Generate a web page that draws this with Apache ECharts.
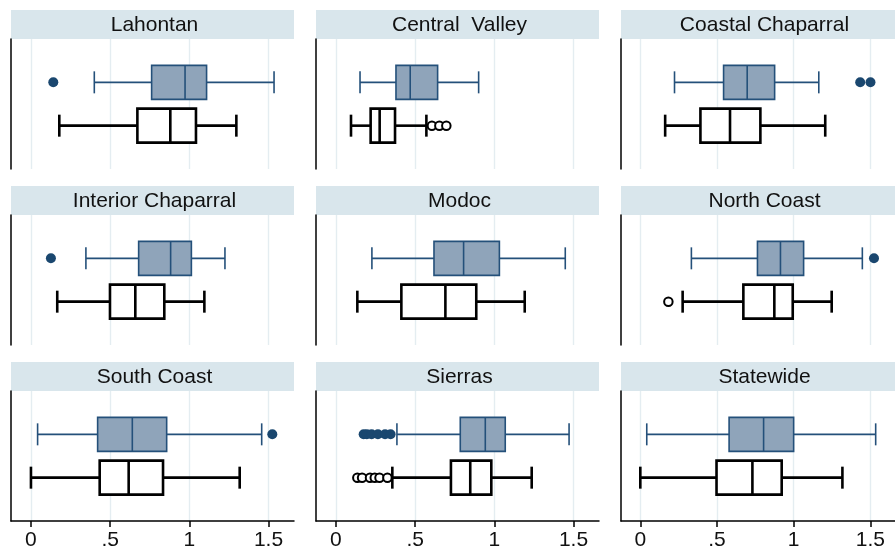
<!DOCTYPE html>
<html>
<head>
<meta charset="utf-8">
<script src="https://cdn.jsdelivr.net/npm/echarts@6/dist/echarts.min.js"></script>
<style>html,body{margin:0;padding:0;background:#fff;}#c{width:895px;height:552px;}</style>
</head>
<body>
<div id="c"></div>
<script>
// ---- data ----
const regions = ['Lahontan', 'Central  Valley', 'Coastal Chaparral', 'Interior Chaparral', 'Modoc', 'North Coast', 'South Coast', 'Sierras', 'Statewide'];
// [lower whisker, Q1, median, Q3, upper whisker]
const blueBoxes = [
  [0.400, 0.762, 0.973, 1.109, 1.535],
  [0.152, 0.379, 0.469, 0.642, 0.901],
  [0.223, 0.543, 0.697, 0.876, 1.164],
  [0.347, 0.680, 0.882, 1.013, 1.225],
  [0.227, 0.619, 0.806, 1.032, 1.448],
  [0.333, 0.764, 0.914, 1.065, 1.448],
  [0.042, 0.421, 0.640, 0.857, 1.457],
  [0.385, 0.785, 0.943, 1.069, 1.472],
  [0.042, 0.579, 0.804, 1.000, 1.535]
];
const blackBoxes = [
  [0.179, 0.672, 0.880, 1.042, 1.297],
  [0.095, 0.219, 0.276, 0.373, 0.571],
  [0.162, 0.392, 0.585, 0.783, 1.206],
  [0.166, 0.499, 0.659, 0.842, 1.095],
  [0.135, 0.413, 0.691, 0.886, 1.192],
  [0.276, 0.672, 0.874, 0.994, 1.248],
  [0.000, 0.434, 0.617, 0.834, 1.318],
  [0.356, 0.726, 0.848, 0.981, 1.236],
  [0.000, 0.497, 0.731, 0.922, 1.318]
];
const blueOutliers = [
  [0.141], [], [1.434, 1.501], [0.126], [], [1.524], [1.524],
  [0.175, 0.195, 0.225, 0.265, 0.310, 0.345], []
];
const blackOutliers = [
  [], [0.606, 0.653, 0.697], [], [], [], [0.183], [],
  [0.135, 0.165, 0.215, 0.245, 0.275, 0.325], []
];
const tickValues = [0, 0.5, 1, 1.5];
const tickLabels = ['0', '.5', '1', '1.5'];
const xRange = [-0.126, 1.661];
const yCats = ['lo', 'black', 'blue', 'hi'];

// ---- styles / layout ----
const BLUE_LINE = '#24507a', BLUE_FILL = '#8fa4ba', BLUE_DOT = '#1a476f';
const FONT = '"Liberation Sans", Arial, Helvetica, sans-serif';
const PW = 283, HEAD_H = 29, PLOT_H = 130, COL_STEP = 305, ROW_STEP = 176, X0 = 11, Y0 = 10;

function boxRenderer(st) {
  return function (params, api) {
    const y = api.value(0);
    const xs = [1, 2, 3, 4, 5].map(k => api.coord([api.value(k), y])[0]);
    const cy = api.coord([xRange[0], y])[1];
    const bh = 34, ch = 22;
    const ls = { stroke: st.stroke, lineWidth: st.width, fill: null };
    return {
      type: 'group',
      children: [
        { type: 'line', shape: { x1: xs[0], y1: cy, x2: xs[1], y2: cy }, style: ls },
        { type: 'line', shape: { x1: xs[3], y1: cy, x2: xs[4], y2: cy }, style: ls },
        { type: 'line', shape: { x1: xs[0], y1: cy - ch / 2, x2: xs[0], y2: cy + ch / 2 }, style: ls },
        { type: 'line', shape: { x1: xs[4], y1: cy - ch / 2, x2: xs[4], y2: cy + ch / 2 }, style: ls },
        { type: 'rect', shape: { x: xs[1], y: cy - bh / 2, width: xs[3] - xs[1], height: bh },
          style: { fill: st.fill, stroke: st.stroke, lineWidth: st.width } },
        { type: 'line', shape: { x1: xs[2], y1: cy - bh / 2, x2: xs[2], y2: cy + bh / 2 }, style: ls }
      ]
    };
  };
}

const grids = [], xAxes = [], yAxes = [], series = [], graphics = [];
regions.forEach((name, i) => {
  const r = Math.floor(i / 3), c = i % 3;
  const left = X0 + c * COL_STEP, top = Y0 + r * ROW_STEP;
  const bottomRow = r === 2;
  graphics.push({ type: 'rect', shape: { x: left, y: top, width: PW, height: HEAD_H }, style: { fill: '#d9e6ec' }, silent: true });
  graphics.push({ type: 'text', x: left + PW / 2 + 2, y: top + HEAD_H / 2 + 1, silent: true,
    style: { text: name, align: 'center', verticalAlign: 'middle', fontSize: 21, fontFamily: FONT, fill: '#111' } });
  grids.push({ left: left, top: top + HEAD_H, width: PW, height: PLOT_H });
  xAxes.push({
    gridIndex: i, type: 'value', min: xRange[0], max: xRange[1],
    axisLine: { show: bottomRow, onZero: false, lineStyle: { color: '#000', width: 1.5 } },
    axisTick: { show: bottomRow, customValues: tickValues, length: 6, lineStyle: { color: '#000', width: 1.5 } },
    axisLabel: { show: bottomRow, customValues: tickValues, margin: 9, fontSize: 21, fontFamily: FONT, color: '#111',
      formatter: v => tickLabels[tickValues.indexOf(v)] },
    splitLine: { show: true, lineStyle: { color: '#e4edf1', width: 1.4 } }
  });
  yAxes.push({
    gridIndex: i, type: 'category', data: yCats, boundaryGap: false,
    axisLine: { show: true, onZero: false, lineStyle: { color: '#000', width: 1.5 } },
    axisTick: { show: false }, axisLabel: { show: false }, splitLine: { show: false }
  });
  series.push({
    type: 'custom', xAxisIndex: i, yAxisIndex: i, silent: true,
    renderItem: boxRenderer({ stroke: BLUE_LINE, fill: BLUE_FILL, width: 1.6 }),
    encode: { x: [1, 2, 3, 4, 5], y: 0 },
    data: [[2].concat(blueBoxes[i])]
  });
  series.push({
    type: 'custom', xAxisIndex: i, yAxisIndex: i, silent: true,
    renderItem: boxRenderer({ stroke: '#000', fill: '#fff', width: 2.6 }),
    encode: { x: [1, 2, 3, 4, 5], y: 0 },
    data: [[1].concat(blackBoxes[i])]
  });
  series.push({
    type: 'scatter', xAxisIndex: i, yAxisIndex: i, silent: true, symbol: 'circle', symbolSize: 10,
    itemStyle: { color: BLUE_DOT, opacity: 1 },
    data: blueOutliers[i].map(v => [v, 2])
  });
  series.push({
    type: 'scatter', xAxisIndex: i, yAxisIndex: i, silent: true, symbol: 'circle', symbolSize: 8.5,
    itemStyle: { color: '#fff', borderColor: '#000', borderWidth: 2, opacity: 1 },
    data: blackOutliers[i].map(v => [v, 1])
  });
});

const chart = echarts.init(document.getElementById('c'), null, { renderer: 'canvas' });
chart.setOption({
  backgroundColor: '#fff',
  animation: false,
  grid: grids, xAxis: xAxes, yAxis: yAxes, series: series, graphic: graphics
});
</script>
</body>
</html>
